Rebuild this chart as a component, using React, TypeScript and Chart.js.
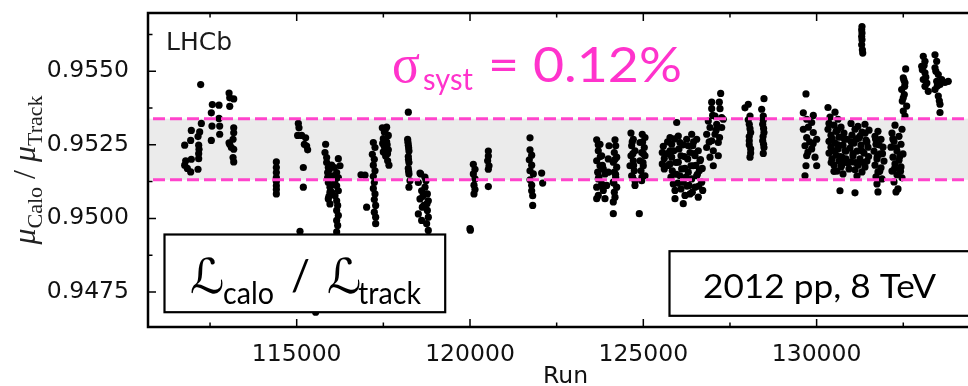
import React, { useEffect, useRef } from 'react';
import { Chart, registerables } from 'chart.js';

Chart.register(...registerables);

// ---- axes ----
const xMin = 110710;
const xMax = 134800;
const xTickValues = [112500, 115000, 117500, 120000, 122500, 125000, 127500, 130000, 132500];
const xTickLabels = ['', '115000', '', '120000', '', '125000', '', '130000', ''];
const yMin = 0.946307;
const yMax = 0.956983;
const yTickValues = [0.9475, 0.94875, 0.95, 0.95125, 0.9525, 0.95375, 0.955, 0.95625];
const yTickLabels = ['0.9475', '', '0.9500', '', '0.9525', '', '0.9550', ''];
const bandLimits = [0.95131, 0.95339];

// ---- data: [run, muCalo/muTrack] ----
const period01 = [
  [111768, 0.95249], [111797, 0.95196], [111768, 0.95181], [111845, 0.9517], [111941, 0.95158], [111960, 0.95201],
  [111941, 0.95265], [111960, 0.95299], [112153, 0.95167], [112172, 0.95203], [112172, 0.9522], [112182, 0.95235],
  [112172, 0.95249], [112153, 0.95278], [112201, 0.95294], [112249, 0.95323], [112230, 0.95455],
  [112537, 0.95265], [112556, 0.95314], [112537, 0.95359], [112566, 0.95387], [112758, 0.95385], [112758, 0.9534],
  [112778, 0.95314], [112778, 0.95286],
  [113049, 0.95426], [113068, 0.9541], [113183, 0.95406], [113068, 0.95381], [113183, 0.95308], [113183, 0.95291],
  [113164, 0.95269], [113068, 0.95252], [113116, 0.95241], [113183, 0.95235], [113164, 0.95207], [113183, 0.95192],
  [113049, 0.95257],
];
const period02 = [
  [114413, 0.95192], [114413, 0.95173], [114413, 0.95156], [114413, 0.95139], [114413, 0.95125], [114413, 0.95111],
  [114413, 0.95098], [114413, 0.95083],
];
const period03 = [
  [115047, 0.95323], [115066, 0.95308], [115027, 0.95282], [115143, 0.95282], [115258, 0.95274], [115220, 0.95252],
  [115287, 0.95246], [115316, 0.95233], [115191, 0.95173], [115191, 0.95106], [115095, 0.94956], [115547, 0.94681],
];
const period04 = [
  [115835, 0.95252], [115816, 0.95224], [115864, 0.95207], [115864, 0.9519], [115912, 0.95173], [115893, 0.95156],
  [115893, 0.95139], [115912, 0.95122], [115960, 0.95106], [115960, 0.95089], [115912, 0.95066], [115960, 0.95049],
  [116201, 0.95203], [116249, 0.95179], [116085, 0.95173], [116153, 0.95156], [116201, 0.95139], [116105, 0.95128],
  [116153, 0.95111], [116201, 0.95094], [116105, 0.95077], [116153, 0.9506], [116182, 0.95044], [116153, 0.95027],
  [116201, 0.9501], [116153, 0.94993], [116182, 0.94976], [116153, 0.94954],
  [116008, 0.95181], [116056, 0.95145], [116008, 0.95089], [115940, 0.95165], [116060, 0.95115], [115930, 0.95075],
];
const period05 = [
  [116855, 0.95148], [116970, 0.95147], [117018, 0.95038], [117211, 0.95258], [117259, 0.95241], [117182, 0.95218],
  [117239, 0.95201], [117211, 0.95181], [117259, 0.95162], [117211, 0.95143], [117239, 0.95122], [117211, 0.95102],
  [117259, 0.95083], [117239, 0.95064], [117278, 0.95044], [117239, 0.95021], [117278, 0.95004], [117278, 0.94982],
];
const period06 = [
  [117470, 0.95308], [117595, 0.9531], [117528, 0.95294], [117643, 0.95282], [117499, 0.95271], [117595, 0.9526],
  [117528, 0.95244], [117643, 0.95233], [117499, 0.95226], [117566, 0.95212], [117624, 0.95196], [117662, 0.95181],
  [117550, 0.953], [117610, 0.9525], [117480, 0.95255], [117620, 0.9522],
];
const period07 = [
  [118220, 0.95361], [118201, 0.95269], [118220, 0.95249], [118239, 0.95229], [118220, 0.9521], [118239, 0.9519],
  [118220, 0.9517], [118239, 0.95151], [118268, 0.95128], [118239, 0.95106], [118210, 0.95259], [118230, 0.95239],
  [118225, 0.952], [118230, 0.9516],
];
const period08 = [
  [118557, 0.95154], [118509, 0.95122], [118605, 0.95094], [118557, 0.95066], [118624, 0.95038], [118509, 0.95015],
  [118605, 0.94993], [118576, 0.95151], [118730, 0.95128], [118701, 0.95106], [118769, 0.95083], [118797, 0.9506],
  [118672, 0.95044], [118769, 0.95027], [118797, 0.95004], [118749, 0.94982], [118797, 0.94959], [118700, 0.9514],
  [118760, 0.9505], [118640, 0.95075],
];
const period09 = [
  [120096, 0.95184], [120144, 0.95167], [120096, 0.95151], [120144, 0.95134], [120115, 0.95113], [120144, 0.95098],
  [120115, 0.95083], [119999, 0.94965], [120010, 0.9496],
];
const period10 = [
  [120529, 0.95229], [120529, 0.95212], [120509, 0.95196], [120548, 0.95179], [120529, 0.95167], [120529, 0.95108],
];
const period11 = [
  [121731, 0.95274], [121731, 0.95233], [121779, 0.95215], [121711, 0.95199], [121779, 0.95181], [121731, 0.95162],
  [121827, 0.95151], [121731, 0.95131], [121779, 0.95113], [121779, 0.95094], [121808, 0.95077], [121808, 0.95044],
  [122067, 0.95154], [122096, 0.9512],
];
const period12 = [
  [123655, 0.95267], [123750, 0.95252], [123701, 0.9523], [123799, 0.95213], [123655, 0.95196], [123750, 0.95179],
  [123845, 0.95168], [123684, 0.95157], [123894, 0.95151], [123701, 0.95134], [123799, 0.95117], [123655, 0.95106],
  [123845, 0.95095], [123701, 0.95078], [123894, 0.95067], [123655, 0.95067],
  [124183, 0.95267], [124203, 0.95247], [124163, 0.95224], [124232, 0.95208], [124134, 0.95191], [124232, 0.95174],
  [124163, 0.95157], [124203, 0.9514], [124134, 0.95123], [124232, 0.95106], [124163, 0.95089], [124183, 0.95072],
  [124134, 0.95056], [124134, 0.95016],
  [123989, 0.95202], [123989, 0.95157], [123943, 0.95112], [124010, 0.95247],
  [123700, 0.9525], [123760, 0.9521], [123820, 0.9518], [123720, 0.9514], [123800, 0.9511], [124180, 0.952],
  [124200, 0.9515], [124150, 0.9512],
];
const period13 = [
  [124644, 0.9529], [124711, 0.95269], [124664, 0.95247], [124760, 0.9523], [124644, 0.95213], [124711, 0.95196],
  [124616, 0.95179], [124740, 0.95162], [124664, 0.95145], [124760, 0.95128], [124760, 0.95112],
  [124970, 0.95286], [125048, 0.95275], [124904, 0.95258], [125028, 0.95241], [124953, 0.95224], [125048, 0.95213],
  [124904, 0.95196], [124999, 0.95179], [124933, 0.95162], [125048, 0.95145], [124953, 0.95128], [124884, 0.95016],
  [124680, 0.9526], [124700, 0.9522], [124720, 0.9518], [124690, 0.9514], [124980, 0.9526], [125000, 0.9522],
  [124990, 0.9519], [124960, 0.9514],
];
const period14 = [
  [125576, 0.95245], [125547, 0.95224], [125605, 0.95204], [125547, 0.95185], [125605, 0.95168],
  [125770, 0.95275], [125819, 0.95252], [125770, 0.9523], [125819, 0.95208], [125770, 0.95185], [125836, 0.95162],
  [125798, 0.9514], [125865, 0.95117], [125914, 0.95095], [125914, 0.95067], [126153, 0.9505], [125963, 0.95326],
  [126009, 0.9528], [126058, 0.95258], [126029, 0.95236], [126087, 0.95213], [126009, 0.95191], [126107, 0.95168],
  [126058, 0.95145], [126153, 0.95123], [126087, 0.951], [126202, 0.95078],
  [126251, 0.95269], [126297, 0.95247], [126347, 0.95224], [126280, 0.95202], [126375, 0.95179], [126297, 0.95157],
  [126396, 0.95134], [126318, 0.95112], [126413, 0.95089], [126396, 0.95286],
  [126540, 0.95269], [126425, 0.95247], [126586, 0.9523], [126491, 0.95213], [126635, 0.95196], [126442, 0.95179],
  [126615, 0.95162], [126540, 0.95145], [126684, 0.95123], [126491, 0.95106], [126713, 0.95095], [126586, 0.95072],
  [126347, 0.95083],
  [125700, 0.9526], [125690, 0.9522], [125720, 0.9518], [125900, 0.9527], [125880, 0.9523], [125940, 0.9519],
  [125960, 0.9515], [126000, 0.9512], [126150, 0.9525], [126180, 0.9521], [126200, 0.9517], [126230, 0.9514],
  [126260, 0.9511], [126450, 0.9526], [126470, 0.9522], [126520, 0.9518], [126560, 0.9515], [126600, 0.9511],
  [126650, 0.952], [126700, 0.9517],
];
const period15 = [
  [127232, 0.95425], [126973, 0.95395], [127192, 0.95395], [126973, 0.95373], [127212, 0.95373], [127068, 0.95348],
  [127261, 0.95343], [126875, 0.95331], [127117, 0.9532], [126924, 0.95309], [127261, 0.95309], [126828, 0.95286],
  [127068, 0.95286], [126973, 0.95264], [127163, 0.95258], [126828, 0.95241], [127019, 0.9523], [127163, 0.95213],
  [126924, 0.95208], [127019, 0.95179], [127307, 0.95337], [127000, 0.9535], [127100, 0.953], [127200, 0.95275],
  [126900, 0.9526],
];
const period16 = [
  [128028, 0.95388], [127933, 0.95376], [128078, 0.95348], [128057, 0.9532], [128097, 0.95292], [128057, 0.95264],
  [128097, 0.95236], [128078, 0.95208], [128078, 0.95305], [128057, 0.9525], [128097, 0.95222], [128028, 0.95335],
  [128057, 0.95278],
];
const period17 = [
  [128481, 0.95407], [128415, 0.95371], [128461, 0.95348], [128444, 0.9532], [128481, 0.95292], [128444, 0.95264],
  [128481, 0.95241], [128461, 0.95221], [128461, 0.95334], [128470, 0.95306], [128455, 0.95278], [128470, 0.95252],
];
const period18 = [
  [129693, 0.95423], [129616, 0.95359], [129713, 0.95337], [129857, 0.95326], [129616, 0.95303], [129904, 0.95292],
  [129713, 0.95275], [130002, 0.95269], [129664, 0.95247], [129857, 0.95236], [129713, 0.95213], [129953, 0.95208],
  [129693, 0.95179], [129664, 0.95145], [130002, 0.95179], [129904, 0.9535], [129760, 0.9531], [129800, 0.9526],
  [129750, 0.95225], [129900, 0.95255],
];
const period19 = [
  [130328, 0.95377], [130530, 0.95361], [130386, 0.95344], [130616, 0.95337], [130357, 0.95323], [130501, 0.95317],
  [130703, 0.9531], [130328, 0.95303], [130559, 0.95296], [130789, 0.9529], [130414, 0.95283], [130645, 0.95276],
  [130876, 0.95269], [130357, 0.95262], [130530, 0.95256], [130761, 0.95249], [130414, 0.95242], [130616, 0.95236],
  [130847, 0.95229], [130357, 0.95222], [130559, 0.95215], [130732, 0.95208], [130443, 0.95202], [130645, 0.95195],
  [130905, 0.95188], [130501, 0.95181], [130703, 0.95175], [130587, 0.95161], [130761, 0.95151], [130674, 0.95094],
  [130992, 0.95323], [131193, 0.95313], [131395, 0.9532], [131107, 0.95303], [131309, 0.95293], [131511, 0.953],
  [131020, 0.95283], [131222, 0.95273], [131424, 0.95266], [131078, 0.95256], [131280, 0.95249], [131482, 0.95242],
  [130963, 0.95239], [131164, 0.95229], [131366, 0.95222], [131049, 0.95212], [131251, 0.95202], [131453, 0.95195],
  [130992, 0.95192], [131193, 0.95181], [131395, 0.95175], [131107, 0.95165], [131309, 0.95158], [131164, 0.95144],
  [131107, 0.95087], [130934, 0.95168], [130847, 0.95202],
  [130450, 0.9527], [130480, 0.9523], [130420, 0.9519], [130500, 0.9516], [130600, 0.953], [130620, 0.9525],
  [130680, 0.9521], [130720, 0.9518], [130800, 0.9527], [130820, 0.9523], [130780, 0.9519], [131000, 0.9526],
  [131050, 0.9522], [131120, 0.9519], [131150, 0.9527], [131250, 0.9528], [131300, 0.9523], [131350, 0.9519],
  [131400, 0.9529], [131450, 0.9526], [131500, 0.9521],
];
const period20 = [
  [131770, 0.95296], [131684, 0.95279], [131857, 0.95269], [131713, 0.95252], [131915, 0.95242], [131655, 0.95229],
  [131828, 0.95219], [131741, 0.95202], [131943, 0.95195], [131684, 0.95181], [131857, 0.95172], [131770, 0.95158],
  [131713, 0.95141], [131886, 0.95134], [131741, 0.95117], [131770, 0.9509],
  [132261, 0.95317], [132463, 0.95303], [132174, 0.9529], [132376, 0.95279], [132232, 0.95262], [132434, 0.95252],
  [132145, 0.95242], [132318, 0.95229], [132492, 0.95219], [132203, 0.95208], [132376, 0.95198], [132261, 0.95185],
  [132434, 0.95175], [132174, 0.95161], [132318, 0.95148], [132463, 0.95138], [132232, 0.95124], [132347, 0.951],
  [132290, 0.9509],
  [131700, 0.9527], [131800, 0.9525], [131750, 0.9521], [131820, 0.9516], [131900, 0.9522], [132200, 0.9527],
  [132300, 0.9524], [132400, 0.9521], [132250, 0.9517], [132420, 0.9516],
];
const period21 = [
  [131309, 0.95652], [131300, 0.95641], [131309, 0.9563], [131300, 0.95618], [131309, 0.95607], [131300, 0.9559],
  [131320, 0.95573], [131330, 0.95562],
];
const period22 = [
  [132569, 0.95508], [132500, 0.95478], [132549, 0.95461], [132454, 0.95438], [132529, 0.95421], [132471, 0.95399],
  [132598, 0.95382], [132549, 0.95348], [132520, 0.9547], [132500, 0.9541], [132540, 0.95449], [132500, 0.95365],
];
const period23 = [
  [133077, 0.95551], [133126, 0.95534], [133031, 0.95517], [133126, 0.95495], [133077, 0.95472], [133126, 0.95449],
  [133221, 0.95432], [133415, 0.95556], [133464, 0.95534], [133415, 0.95512], [133510, 0.95489], [133464, 0.95466],
  [133559, 0.95455], [133608, 0.95472], [133798, 0.95466], [133415, 0.95438], [133510, 0.95416], [133559, 0.95388],
  [133559, 0.9536], [133100, 0.9552], [133150, 0.9548], [133440, 0.955], [133480, 0.9545], [133700, 0.95462],
  [133540, 0.954], [133180, 0.9546], [133050, 0.95505],
];

const allPeriods = [
  period01, period02, period03, period04, period05, period06, period07, period08, period09, period10, period11,
  period12, period13, period14, period15, period16, period17, period18, period19, period20, period21, period22,
  period23,
];

const PINK_TEXT = '#ff33cc';
const PINK_LINE = '#ff44cc';

function drawFitted(ctx: any, text: string, x: number, y: number, font: string, color: string, width?: number) {
  ctx.save();
  ctx.font = font;
  ctx.fillStyle = color;
  ctx.textAlign = 'left';
  ctx.textBaseline = 'alphabetic';
  const w = ctx.measureText(text).width;
  ctx.translate(x, y);
  if (width && w > 0) ctx.scale(width / w, 1);
  ctx.fillText(text, 0, 0);
  ctx.restore();
}

function drawYTitle(ctx: any, cx: number, cy: number) {
  const big = 'italic 32px "Liberation Serif", serif';
  const sub = '22px "Liberation Serif", serif';
  const parts = [
    { t: 'μ', f: big, dy: 0 },
    { t: 'Calo', f: sub, dy: 7 },
    { t: ' / ', f: '32px "Liberation Serif", serif', dy: 0 },
    { t: 'μ', f: big, dy: 0 },
    { t: 'Track', f: sub, dy: 7 },
  ];
  ctx.save();
  ctx.translate(cx, cy);
  ctx.rotate(-Math.PI / 2);
  ctx.fillStyle = '#222';
  ctx.textBaseline = 'alphabetic';
  let total = 0;
  const widths = parts.map((p) => {
    ctx.font = p.f;
    const w = ctx.measureText(p.t).width;
    total += w;
    return w;
  });
  let x = -total / 2;
  parts.forEach((p, i) => {
    ctx.font = p.f;
    ctx.fillText(p.t, x, p.dy);
    x += widths[i];
  });
  ctx.restore();
}

const decorPlugin = {
  id: 'decor',
  beforeDatasetsDraw(chart: any) {
    const { ctx, chartArea: a, scales } = chart;
    const top = scales.y.getPixelForValue(bandLimits[1]);
    const bot = scales.y.getPixelForValue(bandLimits[0]);
    ctx.save();
    ctx.fillStyle = '#ebebeb';
    ctx.fillRect(a.left, top, a.right - a.left, bot - top);
    ctx.restore();
  },
  afterDatasetsDraw(chart: any) {
    const { ctx, chartArea: a, scales } = chart;
    const xs = scales.x;
    const ys = scales.y;

    ctx.save();
    ctx.strokeStyle = PINK_LINE;
    ctx.lineWidth = 3;
    ctx.setLineDash([12, 5]);
    ctx.lineDashOffset = -5;
    for (const v of bandLimits) {
      const py = ys.getPixelForValue(v);
      ctx.beginPath();
      ctx.moveTo(a.left, py);
      ctx.lineTo(a.right, py);
      ctx.stroke();
    }
    ctx.restore();

    drawFitted(ctx, 'LHCb', 166, 50, '25px "DejaVu Sans", sans-serif', '#1a1a1a');

    drawFitted(ctx, 'σ', 392, 82, '54px "Liberation Serif", serif', PINK_TEXT, 28);
    drawFitted(ctx, 'syst', 423, 90, '30px Lato, sans-serif', PINK_TEXT, 50);
    drawFitted(ctx, '= 0.12%', 488, 82, '48px Lato, sans-serif', PINK_TEXT, 194);

    ctx.save();
    ctx.fillStyle = '#fff';
    ctx.strokeStyle = '#000';
    ctx.lineWidth = 2.2;
    ctx.fillRect(164.5, 234.5, 280.7, 77.7);
    ctx.strokeRect(164.5, 234.5, 280.7, 77.7);
    ctx.fillRect(669.5, 251.2, 320, 64.6);
    ctx.strokeRect(669.5, 251.2, 320, 64.6);
    ctx.restore();

    drawFitted(ctx, 'ℒ', 190, 293, '48px "DejaVu Sans", sans-serif', '#000');
    drawFitted(ctx, 'calo', 223, 304, '31px Lato, sans-serif', '#000', 51);
    drawFitted(ctx, '/', 291, 290, '42px Lato, sans-serif', '#000');
    drawFitted(ctx, 'ℒ', 327, 293, '48px "DejaVu Sans", sans-serif', '#000');
    drawFitted(ctx, 'track', 358, 304, '31px Lato, sans-serif', '#000', 63);
    drawFitted(ctx, '2012 pp, 8 TeV', 703, 298, '32px Lato, sans-serif', '#000', 233);

    ctx.save();
    ctx.strokeStyle = '#000';
    ctx.lineWidth = 1.5;
    xs.ticks.forEach((t: any, i: number) => {
      const px = xs.getPixelForValue(t.value);
      const len = xTickLabels[i] ? 8 : 4.5;
      ctx.beginPath();
      ctx.moveTo(px, a.bottom);
      ctx.lineTo(px, a.bottom - len);
      ctx.moveTo(px, a.top);
      ctx.lineTo(px, a.top + len);
      ctx.stroke();
    });
    ys.ticks.forEach((t: any, i: number) => {
      const py = ys.getPixelForValue(t.value);
      const len = yTickLabels[i] ? 8 : 4.5;
      ctx.beginPath();
      ctx.moveTo(a.left, py);
      ctx.lineTo(a.left + len, py);
      ctx.moveTo(a.right, py);
      ctx.lineTo(a.right - len, py);
      ctx.stroke();
    });
    ctx.lineWidth = 2.5;
    ctx.strokeRect(a.left, a.top, a.right - a.left, a.bottom - a.top);
    ctx.restore();

    ctx.save();
    ctx.font = '23.5px "DejaVu Sans", sans-serif';
    ctx.fillStyle = '#111';
    ctx.textAlign = 'center';
    ctx.textBaseline = 'alphabetic';
    ctx.fillText('Run', (a.left + a.right) / 2, 383);
    ctx.restore();
    drawYTitle(ctx, 35, (a.top + a.bottom) / 2);
  },
};

export default function App() {
  const ref = useRef<HTMLCanvasElement>(null);
  useEffect(() => {
    const canvas = ref.current;
    if (!canvas) return;
    const points = allPeriods.flat().map(([x, y]) => ({ x, y }));
    const tickFont = { family: '"DejaVu Sans", sans-serif', size: 23.5 };
    const chart = new Chart(canvas, {
      type: 'scatter',
      data: {
        datasets: [
          {
            data: points,
            backgroundColor: '#000',
            borderWidth: 0,
            pointRadius: 3.6,
            pointHoverRadius: 3.6,
          },
        ],
      },
      options: {
        responsive: false,
        animation: false,
        devicePixelRatio: 1,
        events: [],
        layout: { padding: { top: 13, right: 7, left: 0, bottom: 0 } },
        plugins: { legend: { display: false }, tooltip: { enabled: false } },
        scales: {
          x: {
            type: 'linear',
            min: xMin,
            max: xMax,
            grid: { display: false },
            border: { display: false },
            afterBuildTicks: (s: any) => {
              s.ticks = xTickValues.map((v) => ({ value: v }));
            },
            afterFit: (s: any) => {
              s.height = 59;
              s.paddingLeft = 0;
              s.paddingRight = 0;
            },
            ticks: {
              autoSkip: false,
              maxRotation: 0,
              padding: 6,
              color: '#111',
              font: tickFont,
              callback: (_v: any, i: number) => xTickLabels[i],
            },
          },
          y: {
            type: 'linear',
            min: yMin,
            max: yMax,
            grid: { display: false },
            border: { display: false },
            afterBuildTicks: (s: any) => {
              s.ticks = yTickValues.map((v) => ({ value: v }));
            },
            afterFit: (s: any) => {
              s.width = 148;
              s.paddingTop = 0;
              s.paddingBottom = 0;
            },
            ticks: {
              autoSkip: false,
              padding: 11,
              color: '#111',
              font: tickFont,
              callback: (_v: any, i: number) => yTickLabels[i],
            },
          },
        },
      },
      plugins: [decorPlugin],
    } as any);
    return () => chart.destroy();
  }, []);
  return (
    <div
      style={{
        position: 'fixed',
        left: 0,
        top: 0,
        width: 968,
        height: 386,
        overflow: 'hidden',
        background: '#fff',
      }}
    >
      <canvas ref={ref} width={990} height={386} style={{ display: 'block' }} />
    </div>
  );
}
